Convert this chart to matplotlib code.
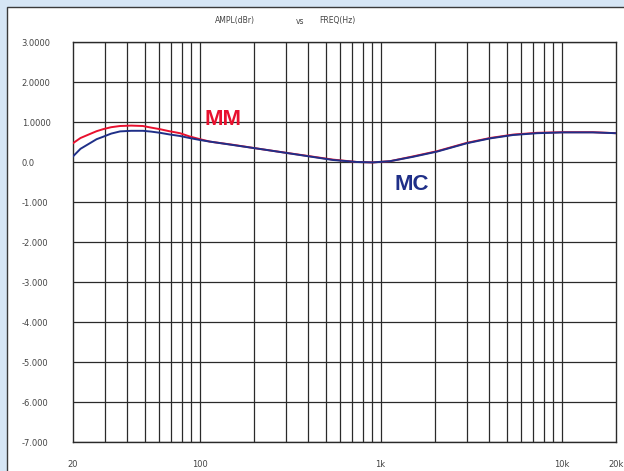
import matplotlib.pyplot as plt
from matplotlib.patches import Rectangle
from matplotlib.ticker import FixedLocator, NullLocator

# frequency response (Hz, dBr)
freq = [20, 22, 24.8, 27, 29.3, 32.5, 36.4, 42, 48.7, 54, 60.5, 68, 78, 88, 100.6,
        114, 153, 236, 359, 546, 741, 908, 1128, 1512, 2052, 3005, 4028, 5396,
        7327, 10200, 14900, 20000]
mm_db = [0.47, 0.60, 0.70, 0.77, 0.82, 0.87, 0.90, 0.91, 0.90, 0.86, 0.82, 0.77,
         0.72, 0.64, 0.57, 0.51, 0.43, 0.30, 0.18, 0.06, 0.0, -0.01, 0.02, 0.14,
         0.27, 0.48, 0.60, 0.685, 0.73, 0.745, 0.745, 0.72]
mc_db = [0.14, 0.33, 0.47, 0.57, 0.63, 0.71, 0.765, 0.78, 0.78, 0.76, 0.73, 0.69,
         0.65, 0.60, 0.55, 0.51, 0.425, 0.30, 0.175, 0.05, 0.0, -0.01, 0.02, 0.13,
         0.26, 0.47, 0.59, 0.675, 0.72, 0.74, 0.74, 0.72]

y_ticks = [3, 2, 1, 0, -1, -2, -3, -4, -5, -6, -7]
y_labels = ["3.0000", "2.0000", "1.0000", "0.0", "-1.000", "-2.000", "-3.000",
            "-4.000", "-5.000", "-6.000", "-7.000"]
x_ticks = [20, 100, 1000, 10000, 20000]
x_labels = ["20", "100", "1k", "10k", "20k"]
x_grid = [30, 40, 50, 60, 70, 80, 90, 100, 200, 300, 400, 500, 600, 700, 800, 900,
          1000, 2000, 3000, 4000, 5000, 6000, 7000, 8000, 9000, 10000]

plt.rcParams["font.family"] = ["Liberation Sans", "DejaVu Sans"]

fig = plt.figure(figsize=(6.24, 4.71), dpi=100)
fig.patch.set_facecolor("#d6e6f5")
# white panel with dark border on the left and top
fig.patches.append(Rectangle((6.5 / 624, -0.01), 1.0, 1 - 6.5 / 471 + 0.01,
                             transform=fig.transFigure, facecolor="white",
                             edgecolor="#3a3a3a", linewidth=1.0, zorder=-1))

ax = fig.add_axes([73 / 624, 29 / 471, 543 / 624, 400 / 471])
ax.set_facecolor("none")
ax.set_xscale("log")
ax.set_xlim(20, 20000)
ax.set_ylim(-7, 3)

for x in x_grid:
    ax.axvline(x, color="#2a2a2a", linewidth=0.9, zorder=1)
for y in y_ticks:
    ax.axhline(y, color="#2a2a2a", linewidth=0.9, zorder=1)
for side in ax.spines.values():
    side.set_color("#2a2a2a")
    side.set_linewidth(1.0)

ax.plot(freq, mm_db, color="#e8102e", linewidth=1.4, zorder=3)
ax.plot(freq, mc_db, color="#1f2f88", linewidth=1.4, zorder=4)

ax.xaxis.set_major_locator(FixedLocator(x_ticks))
ax.xaxis.set_minor_locator(NullLocator())
ax.set_xticklabels(x_labels, family="DejaVu Sans")
ax.set_yticks(y_ticks)
ax.set_yticklabels(y_labels, ha="left", family="DejaVu Sans")
ax.tick_params(axis="y", length=0, pad=37, labelsize=6, labelcolor="#444444")
ax.tick_params(axis="x", length=0, pad=13, labelsize=6, labelcolor="#444444")

ax.text(106, 1.07, "MM", color="#e8102e", fontsize=16, fontweight="bold",
        ha="left", va="center")
ax.text(1490, -0.55, "MC", color="#1f2f88", fontsize=16, fontweight="bold",
        ha="center", va="center")

fig.text(235 / 624, 1 - 21 / 471, "AMPL(dBr)", fontsize=5.5, color="#444444",
         ha="center", va="center", family="DejaVu Sans")
fig.text(300 / 624, 1 - 21 / 471, "vs", fontsize=5.5, color="#444444",
         ha="center", va="center", family="DejaVu Sans")
fig.text(337 / 624, 1 - 21 / 471, "FREQ(Hz)", fontsize=5.5, color="#444444",
         ha="center", va="center", family="DejaVu Sans")

fig.savefig("out.png", dpi=100, facecolor=fig.get_facecolor())
